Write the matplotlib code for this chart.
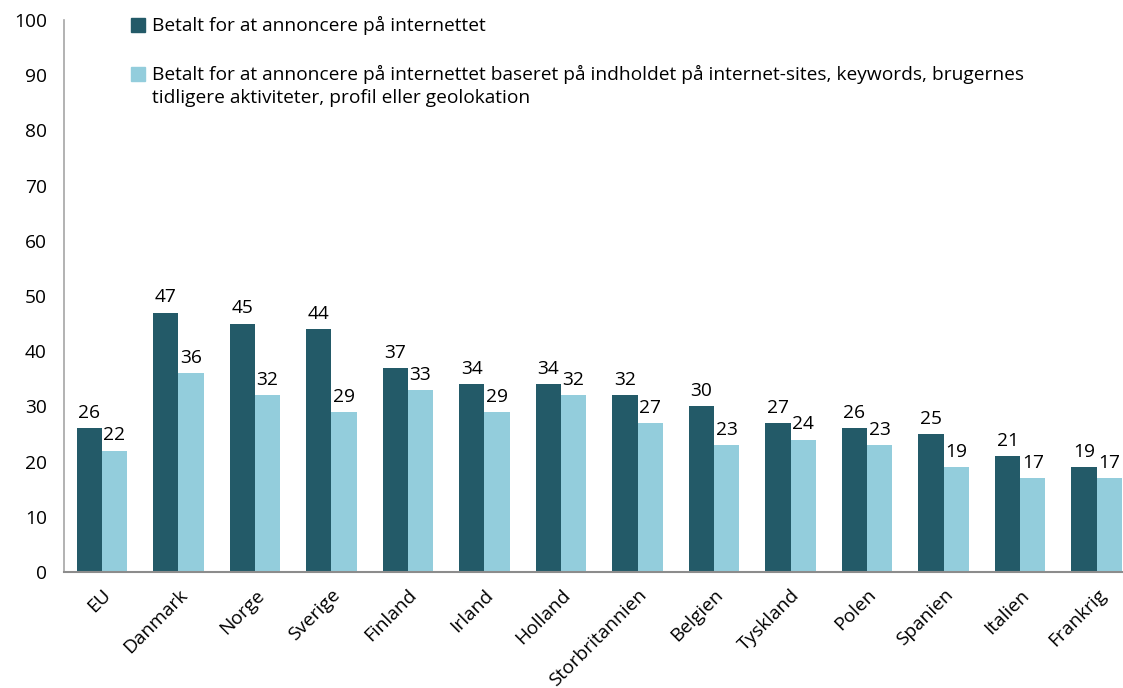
import numpy as np
from matplotlib import pyplot as plt
from matplotlib.patches import Rectangle
from matplotlib.transforms import ScaledTranslation

# Lande og andele (%)
lande = ["EU", "Danmark", "Norge", "Sverige", "Finland", "Irland", "Holland",
         "Storbritannien", "Belgien", "Tyskland", "Polen", "Spanien",
         "Italien", "Frankrig"]
betalt = [26, 47, 45, 44, 37, 34, 34, 32, 30, 27, 26, 25, 21, 19]
betalt_indhold = [22, 36, 32, 29, 33, 29, 32, 27, 23, 24, 23, 19, 17, 17]

serie_navne = [
    "Betalt for at annoncere på internettet",
    "Betalt for at annoncere på internettet baseret på indholdet på internet-sites, keywords, brugernes\n"
    "tidligere aktiviteter, profil eller geolokation",
]

moerk = "#235A68"
lys = "#93CDDC"
tekst_font = ["Open Sans", "DejaVu Sans"]
fs = 13.8

W, H = 1123, 688
fig = plt.figure(figsize=(W / 100, H / 100), dpi=100)
# akserne går lidt ud over højre kant
ax = fig.add_axes([63.5 / W, (H - 572) / H, (1135 - 63.5) / W, (572 - 20) / H])

x = np.arange(len(lande))
bw = 0.33
b1 = ax.bar(x - bw / 2, betalt, bw, color=moerk, linewidth=0)
b2 = ax.bar(x + bw / 2, betalt_indhold, bw, color=lys, linewidth=0)

for bars, vals in ((b1, betalt), (b2, betalt_indhold)):
    for rect, v in zip(bars, vals):
        ax.annotate(str(v), (rect.get_x() + rect.get_width() / 2, v),
                    xytext=(0, 4.5), textcoords="offset points",
                    ha="center", va="bottom", fontsize=fs,
                    family=tekst_font, color="#000000")

ax.set_xlim(-0.5, len(lande) - 0.5)
ax.set_ylim(0, 100)
ax.set_yticks(range(0, 101, 10))
ax.tick_params(axis="y", length=0, pad=12, labelsize=fs)
for lbl in ax.get_yticklabels():
    lbl.set_family(tekst_font)

ax.set_xticks(x)
ax.set_xticklabels(lande, rotation=45, ha="right", rotation_mode="anchor",
                   fontsize=fs, family=tekst_font)
for lbl in ax.get_xticklabels():
    lbl.set_transform(lbl.get_transform() + ScaledTranslation(-9 / 100, 0, fig.dpi_scale_trans))
ax.tick_params(axis="x", length=0, pad=10)

for s in ("top", "right"):
    ax.spines[s].set_visible(False)
ax.spines["left"].set_color("#A6A6A6")
ax.spines["left"].set_linewidth(1.2)
ax.spines["bottom"].set_color("#8C8C8C")
ax.spines["bottom"].set_linewidth(1.5)

# Forklaring
for (ytop, farve, navn) in ((18, moerk, serie_navne[0]), (67, lys, serie_navne[1])):
    fig.patches.append(Rectangle((131 / W, (H - ytop - 14) / H), 14 / W, 14 / H,
                                 transform=fig.transFigure, color=farve,
                                 figure=fig))
    fig.text(152 / W, (H - ytop + 2) / H, navn, ha="left", va="top",
             fontsize=fs, family=tekst_font, linespacing=1.38)

fig.savefig("out.png", dpi=100)
plt.close(fig)
